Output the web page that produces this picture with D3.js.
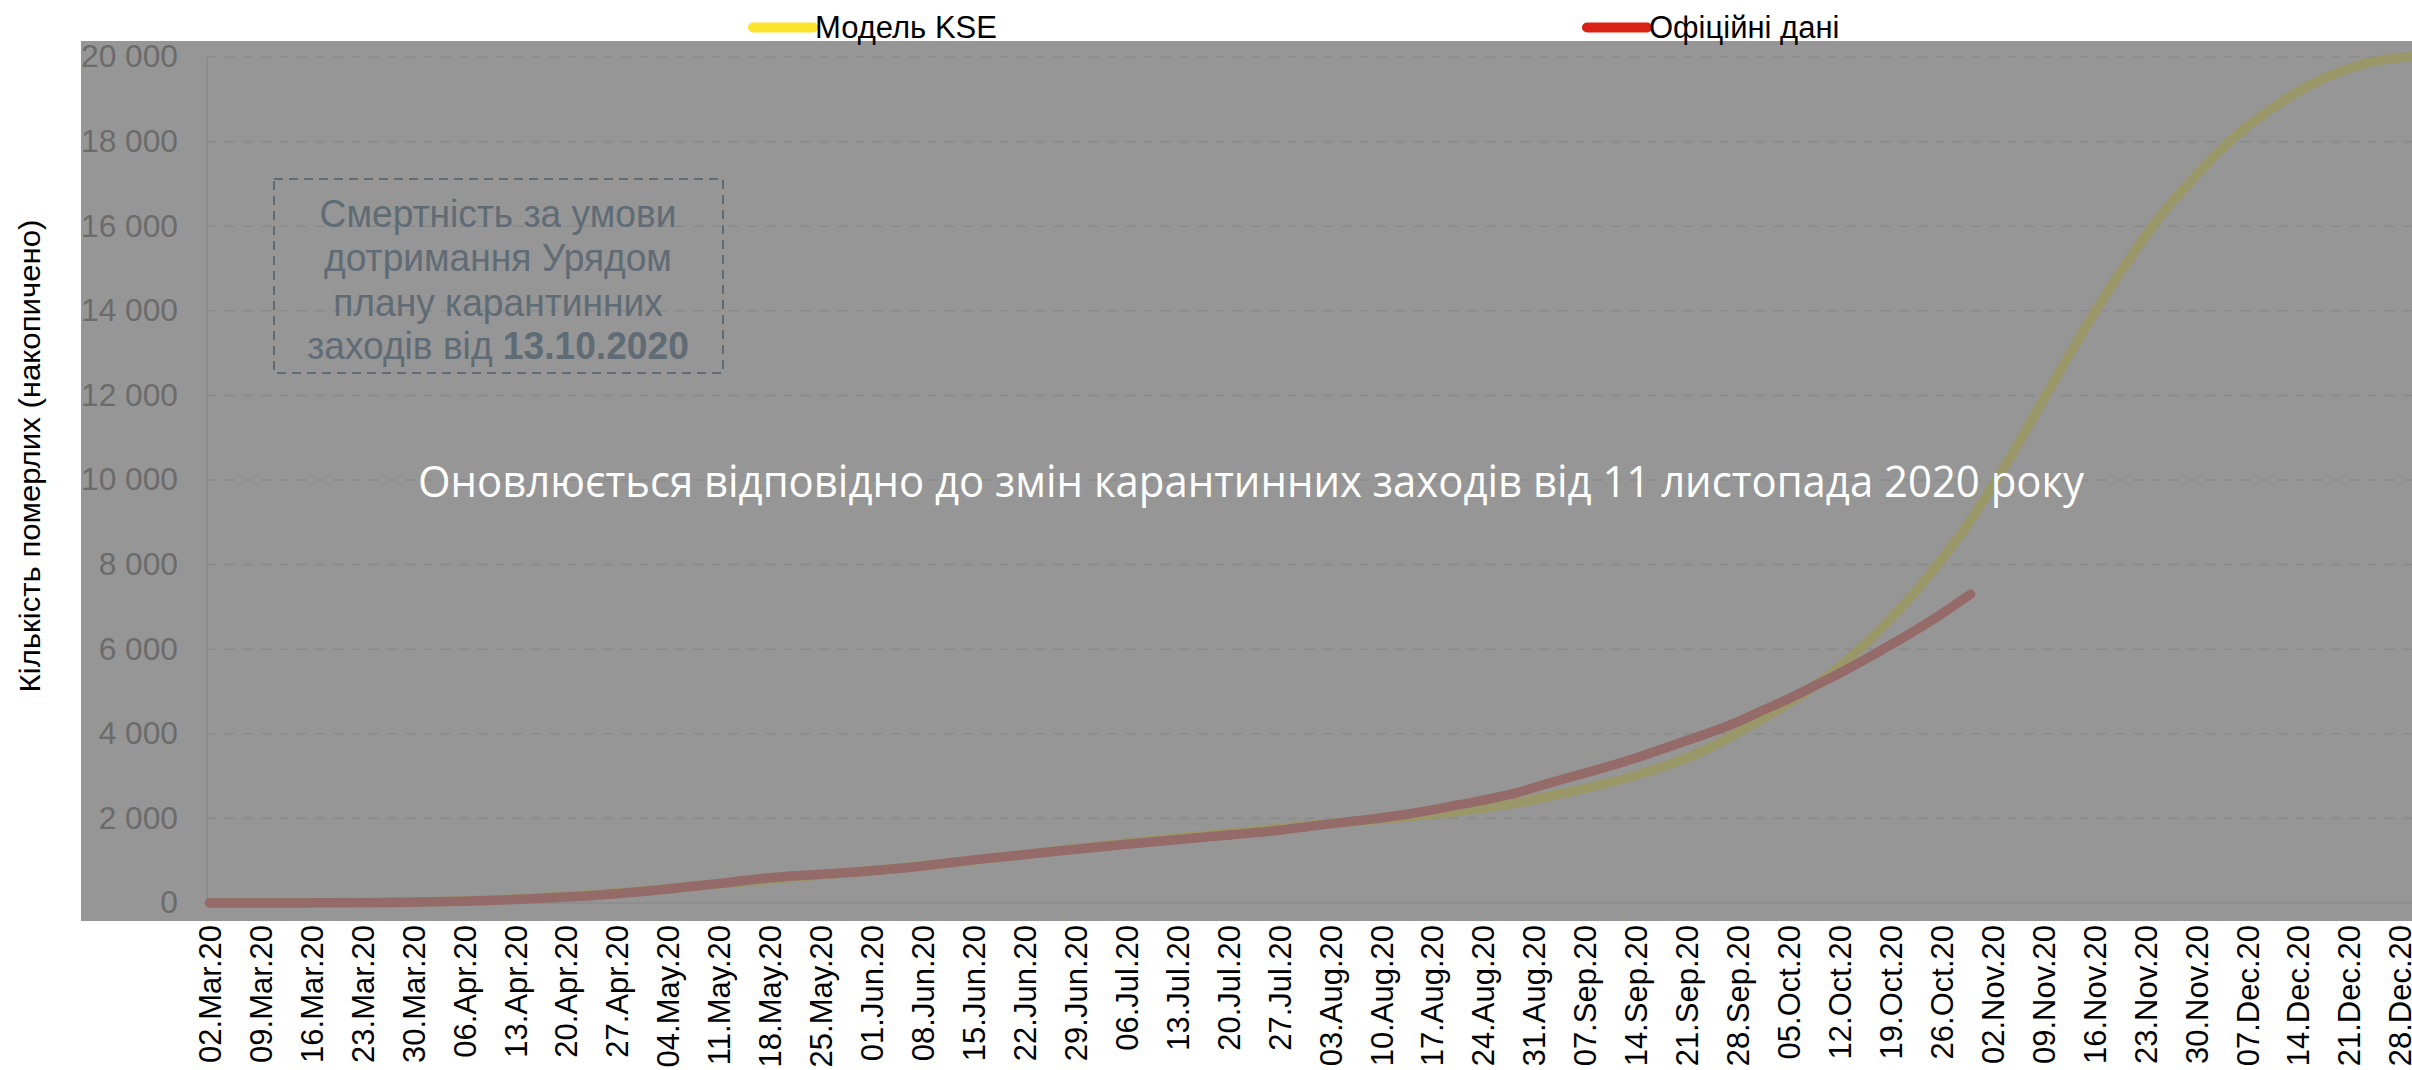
<!DOCTYPE html>
<html><head><meta charset="utf-8">
<script src="https://cdn.jsdelivr.net/npm/d3@7"></script>
<style>
html,body{margin:0;padding:0;background:#fff;overflow:hidden;}
svg{display:block;}
</style></head><body>
<svg id="chart" width="2412" height="1070"></svg>
<script>
// ---------------- DATA ----------------
const seriesNames = ["Модель KSE", "Офіційні дані"];

const modelDates = ["2020-03-02","2020-03-16","2020-03-30","2020-04-13","2020-04-27","2020-05-11","2020-05-25","2020-06-08","2020-06-22","2020-07-06","2020-07-20","2020-08-03","2020-08-12","2020-08-19","2020-08-27","2020-09-05","2020-09-14","2020-09-23","2020-10-01","2020-10-05","2020-10-09","2020-10-12","2020-10-16","2020-10-19","2020-10-22","2020-10-26","2020-10-29","2020-11-02","2020-11-05","2020-11-09","2020-11-12","2020-11-16","2020-11-19","2020-11-23","2020-11-26","2020-11-30","2020-12-03","2020-12-07","2020-12-10","2020-12-14","2020-12-17","2020-12-21","2020-12-24","2020-12-28","2020-12-31"];
const modelValues = [0,3,25,95,240,450,660,880,1150,1420,1650,1880,2010,2130,2320,2630,3020,3580,4320,4720,5190,5600,6200,6720,7280,8120,8800,9850,10700,11900,12800,13950,14760,15760,16440,17200,17750,18360,18740,19180,19450,19730,19880,19980,20020];

const officialDates = ["2020-03-02","2020-03-09","2020-03-16","2020-03-23","2020-03-30","2020-04-06","2020-04-13","2020-04-20","2020-04-27","2020-05-04","2020-05-11","2020-05-17","2020-05-25","2020-06-01","2020-06-05","2020-06-15","2020-06-25","2020-07-06","2020-07-17","2020-07-27","2020-08-01","2020-08-07","2020-08-14","2020-08-21","2020-08-28","2020-09-04","2020-09-07","2020-09-14","2020-09-21","2020-09-28","2020-10-01","2020-10-05","2020-10-09","2020-10-12","2020-10-19","2020-10-25","2020-10-30"];
const officialValues = [0,0,3,8,20,40,80,140,220,330,460,580,680,760,820,1020,1200,1390,1560,1720,1830,1950,2110,2330,2580,2930,3070,3430,3840,4280,4520,4830,5170,5430,6100,6720,7300];

const yTickValues = [0,2000,4000,6000,8000,10000,12000,14000,16000,18000,20000];
const xTickFirst = "2020-03-02";
const xTickLast = "2020-12-28";
const yAxisTitle = "Кількість померлих (накопичено)";
const noteLines = [["Смертність за умови"],["дотримання Урядом"],["плану карантинних"],["заходів від ", "13.10.2020"]];
const bannerText = "Оновлюється відповідно до змін карантинних заходів від 11 листопада 2020 року";

// ---------------- LAYOUT ----------------
const W = 2412, H = 1070;
const parse = d3.utcParse("%Y-%m-%d");
const svg = d3.select("#chart");

const arial = "'Liberation Sans',Arial,sans-serif";

const x = d3.scaleUtc().domain([parse(xTickFirst), parse(xTickLast)]).range([209.5, 2400]);
const y = d3.scaleLinear().domain([0, 20000]).range([903, 57]);

// gray panel
svg.append("rect").attr("x",81).attr("y",41).attr("width",W-81).attr("height",921-41).attr("fill","#969696");

// gridlines
svg.append("g").selectAll("line").data(yTickValues.filter(v=>v>0)).join("line")
  .attr("x1",207).attr("x2",W).attr("y1",d=>y(d)).attr("y2",d=>y(d))
  .attr("stroke","#8a8a8a").attr("stroke-width",1.6).attr("stroke-dasharray","10,8");
svg.append("line").attr("x1",207).attr("x2",W).attr("y1",y(0)).attr("y2",y(0))
  .attr("stroke","#8b8b8b").attr("stroke-width",1.6);
svg.append("line").attr("x1",207).attr("x2",207).attr("y1",y(20000)).attr("y2",y(0))
  .attr("stroke","#8b8b8b").attr("stroke-width",1.6);

// y axis
const fmt = d3.formatLocale({decimal:",", thousands:" ", grouping:[3], currency:["",""]}).format(",");
const yAxis = svg.append("g").attr("transform","translate(207,0)")
  .call(d3.axisLeft(y).tickValues(yTickValues).tickSize(0).tickPadding(29).tickFormat(fmt));
yAxis.select(".domain").remove();
yAxis.selectAll("text").attr("font-family",arial).attr("font-size",31).attr("fill","#6b6b6b");
{
  const ref = yAxis.selectAll("text").filter(d=>d===20000).node();
  const k = 97 / ref.getComputedTextLength();
  yAxis.selectAll("text").each(function(){
    d3.select(this).attr("transform", `translate(-29,0) scale(${k},1)`).attr("x",0);
  });
}

// x axis
const xTicks = d3.utcMonday.range(parse(xTickFirst), d3.utcDay.offset(parse(xTickLast),1));
const xAxis = svg.append("g").attr("transform","translate(0,921)")
  .call(d3.axisBottom(x).tickValues(xTicks).tickSize(0).tickFormat(d3.utcFormat("%d.%b.%y")));
xAxis.select(".domain").remove();
xAxis.selectAll("text")
  .attr("font-family",arial).attr("font-size",31).attr("fill","#000")
  .attr("text-anchor","end").attr("y",0).attr("dy","0.35em").attr("x",-4)
  .attr("transform","rotate(-90)");

// y title
{
  const t = svg.append("text").text(yAxisTitle)
    .attr("font-family",arial).attr("font-size",30).attr("fill","#000")
    .attr("text-anchor","middle").attr("dy","0.35em");
  const k = 473 / t.node().getComputedTextLength();
  t.attr("transform",`translate(29.5,456) rotate(-90) scale(${k},1)`);
}

// note box
svg.append("rect").attr("x",274).attr("y",179).attr("width",449).attr("height",194)
  .attr("fill","none").attr("stroke","#5f6b75").attr("stroke-width",2).attr("stroke-dasharray","9,6");
{
  const g = svg.append("g");
  const centers = [213,257,302,345];
  const texts = noteLines.map((parts,i)=>{
    const t = g.append("text").attr("text-anchor","middle").attr("x",0).attr("y",centers[i]).attr("dy","0.35em")
      .attr("font-family",arial).attr("font-size",39).attr("fill","#5f6b75");
    parts.forEach((p,j)=>t.append("tspan").text(p).attr("font-weight", j===1 ? "bold" : "normal"));
    return t;
  });
  const k = 357 / texts[0].node().getComputedTextLength();
  g.attr("transform",`translate(498,0) scale(${k},1)`);
}

// series lines
const modelData = modelDates.map((d,i)=>({date:parse(d), v:modelValues[i]}));
const officialData = officialDates.map((d,i)=>({date:parse(d), v:officialValues[i]}));
const line = d3.line().x(d=>x(d.date)).y(d=>y(d.v)).curve(d3.curveMonotoneX);
const lineColors = ["#9a9769","#946b68"];
const legendColors = ["#fde42c","#d92214"];
svg.append("path").datum(modelData).attr("d",line).attr("fill","none")
  .attr("stroke",lineColors[0]).attr("stroke-width",9.5).attr("stroke-linecap","round").attr("stroke-linejoin","round");
svg.append("path").datum(officialData).attr("d",line).attr("fill","none")
  .attr("stroke",lineColors[1]).attr("stroke-width",9.5).attr("stroke-linecap","round").attr("stroke-linejoin","round");

// banner
svg.append("text").text(bannerText)
  .attr("x",418).attr("y",497)
  .attr("font-family","'Open Sans','Noto Sans',sans-serif").attr("font-size",43).attr("fill","#ffffff")
  .attr("textLength",1666).attr("lengthAdjust","spacingAndGlyphs");

// legend
const legendX = [753, 1587];
seriesNames.forEach((name,i)=>{
  const g = svg.append("g").attr("transform",`translate(${legendX[i]},27.5)`);
  g.append("line").attr("x1",0).attr("x2",60).attr("y1",0).attr("y2",0)
    .attr("stroke",legendColors[i]).attr("stroke-width",10).attr("stroke-linecap","round");
  g.append("text").text(name).attr("x",62).attr("dy","0.35em")
    .attr("font-family",arial).attr("font-size",31).attr("fill","#000");
});
</script>
</body></html>
